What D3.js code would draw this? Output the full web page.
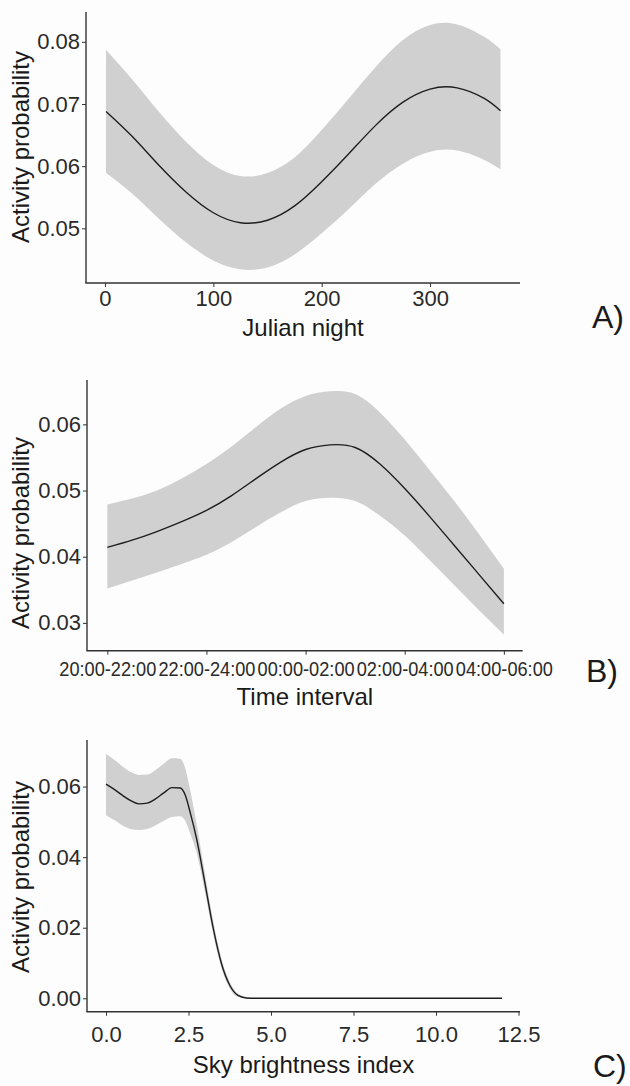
<!DOCTYPE html>
<html>
<head>
<meta charset="utf-8">
<script src="https://cdn.jsdelivr.net/npm/d3@7"></script>
<style>
  body { margin: 0; background: #fdfdfd; }
  svg { display: block; font-family: "Liberation Sans", Arial, sans-serif; }
  .axis path, .axis line { stroke: #333; }
  .axis path { stroke-width: 1.4; }
  .axis text { fill: #2a2a2a; }
</style>
</head>
<body>
<div id="chart"></div>
<script>
// Panel A: Julian night
const nightX = [1, 25, 50, 75, 100, 125, 150, 175, 200, 225, 250, 275, 300, 325, 350, 365];
const nightMean = [0.0688, 0.0648, 0.0601, 0.0558, 0.0525, 0.0509, 0.0513, 0.0536, 0.0575, 0.0620, 0.0666, 0.0703, 0.0724, 0.0726, 0.0709, 0.0689];
const nightLow = [0.0589, 0.0556, 0.0515, 0.0477, 0.0448, 0.0434, 0.0437, 0.0458, 0.0492, 0.0531, 0.0572, 0.0604, 0.0623, 0.0625, 0.0610, 0.0595];
const nightHigh = [0.0787, 0.0740, 0.0687, 0.0639, 0.0602, 0.0584, 0.0589, 0.0614, 0.0658, 0.0709, 0.0760, 0.0803, 0.0827, 0.0828, 0.0808, 0.0788];
const nightTicks = [0, 100, 200, 300];
const nightYTicks = [0.05, 0.06, 0.07, 0.08];

// Panel B: time interval (1..5 = the five intervals)
const timeLabels = ["20:00-22:00", "22:00-24:00", "00:00-02:00", "02:00-04:00", "04:00-06:00"];
const timeX = [1, 1.25, 1.5, 1.75, 2, 2.25, 2.5, 2.75, 3, 3.25, 3.5, 3.75, 4, 4.25, 4.5, 4.75, 5];
const timeMean = [0.0414, 0.0425, 0.0438, 0.0453, 0.0470, 0.0492, 0.0518, 0.0543, 0.0562, 0.0569, 0.0565, 0.0540, 0.0503, 0.0461, 0.0417, 0.0373, 0.0329];
const timeLow = [0.0352, 0.0364, 0.0376, 0.0389, 0.0403, 0.0422, 0.0445, 0.0467, 0.0484, 0.0489, 0.0484, 0.0462, 0.0432, 0.0395, 0.0357, 0.0319, 0.0282];
const timeHigh = [0.0479, 0.0488, 0.0500, 0.0518, 0.0540, 0.0566, 0.0596, 0.0624, 0.0643, 0.0650, 0.0646, 0.0618, 0.0577, 0.0531, 0.0484, 0.0434, 0.0382];
const timeYTicks = [0.03, 0.04, 0.05, 0.06];

// Panel C: sky brightness index
const skyX = [0, 0.25, 0.5, 0.75, 1, 1.25, 1.5, 1.75, 2, 2.25, 2.4, 2.55, 2.75, 3, 3.25, 3.5, 3.75, 4, 4.25, 4.5, 5, 6, 8, 10, 12];
const skyMean = [0.0607, 0.0592, 0.0575, 0.0560, 0.0551, 0.0553, 0.0565, 0.0582, 0.0597, 0.0596, 0.0576, 0.0527, 0.0450, 0.0325, 0.0198, 0.0098, 0.0037, 0.0008, 0.0001, 0, 0, 0, 0, 0, 0];
const skyLow = [0.0519, 0.0505, 0.0490, 0.0480, 0.0477, 0.0480, 0.0490, 0.0503, 0.0514, 0.0516, 0.0503, 0.0468, 0.0412, 0.0300, 0.0180, 0.0085, 0.0028, 0.0004, 0, 0, 0, 0, 0, 0, 0];
const skyHigh = [0.0692, 0.0676, 0.0657, 0.0641, 0.0633, 0.0634, 0.0647, 0.0665, 0.0680, 0.0679, 0.0652, 0.0590, 0.0492, 0.0352, 0.0218, 0.0112, 0.0046, 0.0013, 0.0003, 0.0001, 0, 0, 0, 0, 0];
const skyTicks = [0, 2.5, 5, 7.5, 10, 12.5];
const skyYTicks = [0, 0.02, 0.04, 0.06];

const W = 630, H = 1086;
const svg = d3.select("#chart").append("svg")
    .attr("width", W)
    .attr("height", H);

svg.append("rect").attr("width", W).attr("height", H).attr("fill", "#fdfdfd");

function drawPanel(cfg) {
    const x = d3.scaleLinear().domain(cfg.xDomain).range([cfg.left, cfg.right]);
    const y = d3.scaleLinear().domain(cfg.yDomain).range([cfg.bottom, cfg.top]);

    const rows = cfg.xs.map((v, i) => ({x: v, m: cfg.mean[i], lo: cfg.low[i], hi: cfg.high[i]}));

    const area = d3.area()
        .x(d => x(d.x))
        .y0(d => y(d.lo))
        .y1(d => y(d.hi))
        .curve(cfg.curve);

    const line = d3.line()
        .x(d => x(d.x))
        .y(d => y(d.m))
        .curve(cfg.curve);

    svg.append("path")
        .datum(rows)
        .attr("d", area)
        .attr("fill", "#d0d0d0");

    svg.append("path")
        .datum(rows)
        .attr("d", line)
        .attr("fill", "none")
        .attr("stroke", "#1e1e1e")
        .attr("stroke-width", 1.4);

    // axes
    const xAxis = d3.axisBottom(x)
        .tickValues(cfg.xTicks)
        .tickFormat(cfg.xFormat)
        .tickSizeInner(4)
        .tickSizeOuter(0)
        .tickPadding(cfg.xPad);

    const xg = svg.append("g")
        .attr("class", "axis")
        .attr("transform", `translate(0,${cfg.bottom})`)
        .call(xAxis);
    xg.selectAll("text")
        .style("font-size", cfg.xFont + "px");
    if (cfg.xTextLength) {
        xg.selectAll("text")
            .attr("textLength", cfg.xTextLength)
            .attr("lengthAdjust", "spacingAndGlyphs");
    }
    xg.select(".domain").attr("d", `M${cfg.left - 0.7},0H${cfg.right}`);

    const yAxis = d3.axisLeft(y)
        .tickValues(cfg.yTicks)
        .tickFormat(cfg.yFormat)
        .tickSizeInner(4)
        .tickSizeOuter(0)
        .tickPadding(2);

    const yg = svg.append("g")
        .attr("class", "axis")
        .attr("transform", `translate(${cfg.left},0)`)
        .call(yAxis);
    yg.selectAll("text").style("font-size", "22px");
    yg.select(".domain").attr("d", `M0,${cfg.top}V${cfg.bottom}`);

    // titles
    svg.append("text")
        .attr("x", (cfg.left + cfg.right) / 2)
        .attr("y", cfg.xTitleY)
        .attr("text-anchor", "middle")
        .style("font-size", "24px")
        .attr("fill", "#1a1a1a")
        .text(cfg.xTitle);

    svg.append("text")
        .attr("transform", `translate(29,${cfg.yTitleMid}) rotate(-90)`)
        .attr("text-anchor", "middle")
        .style("font-size", "24px")
        .attr("fill", "#1a1a1a")
        .text("Activity probability");

    svg.append("text")
        .attr("x", cfg.tagX)
        .attr("y", cfg.tagY)
        .style("font-size", "32px")
        .attr("fill", "#1a1a1a")
        .text(cfg.tag);
}

drawPanel({
    xs: nightX, mean: nightMean, low: nightLow, high: nightHigh, curve: d3.curveNatural,
    left: 86, right: 520, top: 12, bottom: 283,
    xDomain: [-17.5, 383], yDomain: [0.0412, 0.0848],
    xTicks: nightTicks, xFormat: d3.format("d"), xFont: 22, xPad: 3,
    yTicks: nightYTicks, yFormat: d3.format(".2f"),
    xTitle: "Julian night", xTitleY: 336, yTitleMid: 147,
    tag: "A)", tagX: 592, tagY: 328
});

drawPanel({
    xs: timeX, mean: timeMean, low: timeLow, high: timeHigh, curve: d3.curveNatural,
    left: 87, right: 522.7, top: 380, bottom: 650.7,
    xDomain: [0.795, 5.19], yDomain: [0.0258, 0.0667],
    xTicks: [1, 2, 3, 4, 5], xFormat: d => timeLabels[d - 1], xFont: 20, xPad: 7, xTextLength: 97,
    yTicks: timeYTicks, yFormat: d3.format(".2f"),
    xTitle: "Time interval", xTitleY: 705, yTitleMid: 533,
    tag: "B)", tagX: 586, tagY: 682
});

drawPanel({
    xs: skyX, mean: skyMean, low: skyLow, high: skyHigh, curve: d3.curveMonotoneX,
    left: 87, right: 520, top: 740, bottom: 1011.7,
    xDomain: [-0.576, 12.545], yDomain: [-0.0038, 0.0732],
    xTicks: skyTicks, xFormat: d3.format(".1f"), xFont: 22, xPad: 11,
    yTicks: skyYTicks, yFormat: d3.format(".2f"),
    xTitle: "Sky brightness index", xTitleY: 1073, yTitleMid: 877,
    tag: "C)", tagX: 593, tagY: 1077
});
</script>
</body>
</html>
